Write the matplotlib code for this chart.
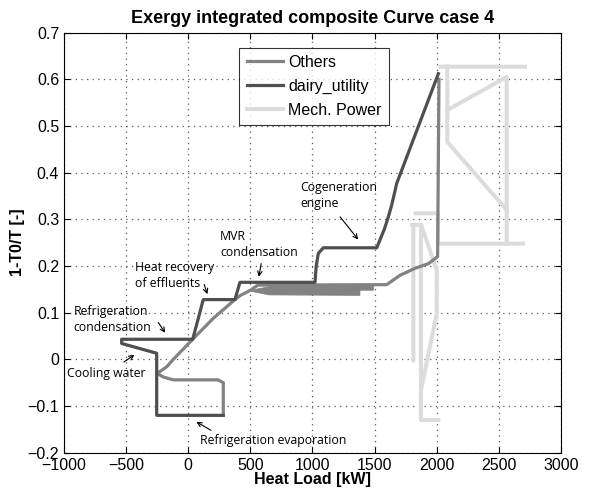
import matplotlib
matplotlib.use("Agg")
import matplotlib.pyplot as plt
import numpy as np

nan = np.nan

# --- curves (x: heat load kW, y: 1-T0/T) ---
others_x = [282, 282, 240, -120, -200, -250, -173, -120, 36, 202, 376, 420, 500, 560,
            1597, 1704, 1825, 1933, 2007, 2018]
others_y = [-0.12, -0.05, -0.044, -0.044, -0.038, -0.03, -0.016, 0.0, 0.043, 0.088, 0.128,
            0.137, 0.148, 0.159, 0.160, 0.18, 0.195, 0.205, 0.22, 0.60]

# MVR band (many overlapping Others segments)
band_x = [500, 700, 1490, 1490, 1382, 1382, 650, 500]
band_y = [0.148, 0.158, 0.158, 0.148, 0.148, 0.137, 0.138, 0.146]

dairy_x = [282, -254, -254, -536, -536, 36, 121, 376, 416, 1020, 1030, 1047, 1087,
           1517, 1580, 1610, 1637, 1678, 2013]
dairy_y = [-0.12, -0.12, 0.013, 0.034, 0.043, 0.043, 0.128, 0.128, 0.165, 0.165, 0.20,
           0.227, 0.239, 0.239, 0.28, 0.305, 0.33, 0.377, 0.612]

mech_x = [1830, 2010, 2010, 2695, nan,
          2563, 2563, 2085, nan,
          2085, 2085, 2563, nan,
          2030, 2710, nan,
          1812, 1812, nan,
          1800, 1875, 2000, 2000, 1879, nan,
          1873, 1873, 2013]
mech_y = [0.313, 0.313, 0.248, 0.248, nan,
          0.248, 0.605, 0.534, nan,
          0.627, 0.466, 0.32, nan,
          0.627, 0.627, nan,
          0.288, -0.002, nan,
          0.288, 0.288, 0.191, 0.098, -0.059, nan,
          0.288, -0.13, -0.13]

labels = ["Others", "dairy_utility", "Mech. Power"]
colors = ["#828282", "#4f4f4f", "#dcdcdc"]

# annotations: text, text position, arrow start, arrow end
notes = [
    ("Cogeneration\nengine", (900, 0.350), (1208, 0.31), (1382, 0.252)),
    ("MVR\ncondensation", (256, 0.245), (591, 0.211), (564, 0.171)),
    ("Heat recovery\nof effluents", (-428, 0.179), (121, 0.166), (161, 0.134)),
    ("Refrigeration\ncondensation", (-925, 0.086), (-254, 0.084), (-173, 0.052)),
    ("Cooling water", (-979, -0.031), (-536, -0.009), (-415, 0.013)),
    ("Refrigeration evaporation", (95, -0.174), (202, -0.155), (46, -0.131)),
]

plt.rcParams['font.family'] = ['Liberation Sans', 'DejaVu Sans']
plt.rcParams['axes.unicode_minus'] = True

fig = plt.figure(figsize=(5.91, 4.92), dpi=100)
ax = fig.add_axes([0.1083, 0.0799, 0.8409, 0.8538])

ax.fill(band_x, band_y, color=colors[0], lw=0.5, zorder=3)
ax.plot(others_x, others_y, color=colors[0], lw=2.3, label=labels[0], zorder=3)
ax.plot(dairy_x, dairy_y, color=colors[1], lw=2.3, label=labels[1], zorder=4)
ax.plot(mech_x, mech_y, color=colors[2], lw=2.9, label=labels[2], zorder=2)

for txt, pos, a0, a1 in notes:
    ax.text(pos[0], pos[1], txt, family='Open Sans', fontsize=8.8, ha='left', va='center',
            linespacing=1.3, zorder=5)
    ax.annotate("", xy=a1, xytext=a0,
                arrowprops=dict(arrowstyle='->', lw=0.8, color='black', mutation_scale=8))

ax.set_xlim(-1000, 3000)
ax.set_ylim(-0.2, 0.7)
ax.set_xticks(np.arange(-1000, 3001, 500))
ax.set_yticks(np.round(np.arange(-0.2, 0.71, 0.1), 1))
ax.set_yticklabels(["\u22120.2", "\u22120.1", "0", "0.1", "0.2", "0.3", "0.4", "0.5", "0.6", "0.7"])
ax.set_xticklabels(["\u22121000", "\u2212500", "0", "500", "1000", "1500", "2000", "2500", "3000"])
ax.tick_params(direction='in', top=True, right=True, labelsize=11.5, length=4, width=0.8)
ax.tick_params(axis='x', pad=4)
ax.grid(True, linestyle=(0, (1, 3.5)), color='0.35', lw=0.9)
for s in ax.spines.values():
    s.set_linewidth(0.8)

ax.set_title("Exergy integrated composite Curve case 4", fontsize=13, fontweight='bold', pad=7)
ax.set_xlabel("Heat Load [kW]", fontsize=11.5, fontweight='bold', labelpad=-1)
ax.set_ylabel("1-T0/T [-]", fontsize=11.5, fontweight='bold', labelpad=2)

leg = ax.legend(loc='upper left', bbox_to_anchor=(0.353, 0.964), fontsize=11.5,
                fancybox=False, edgecolor='black', handlelength=2.3, borderpad=0.45,
                labelspacing=0.55, handletextpad=0.3, borderaxespad=0)
leg.get_frame().set_linewidth(0.8)

fig.savefig("out.png", dpi=100)
